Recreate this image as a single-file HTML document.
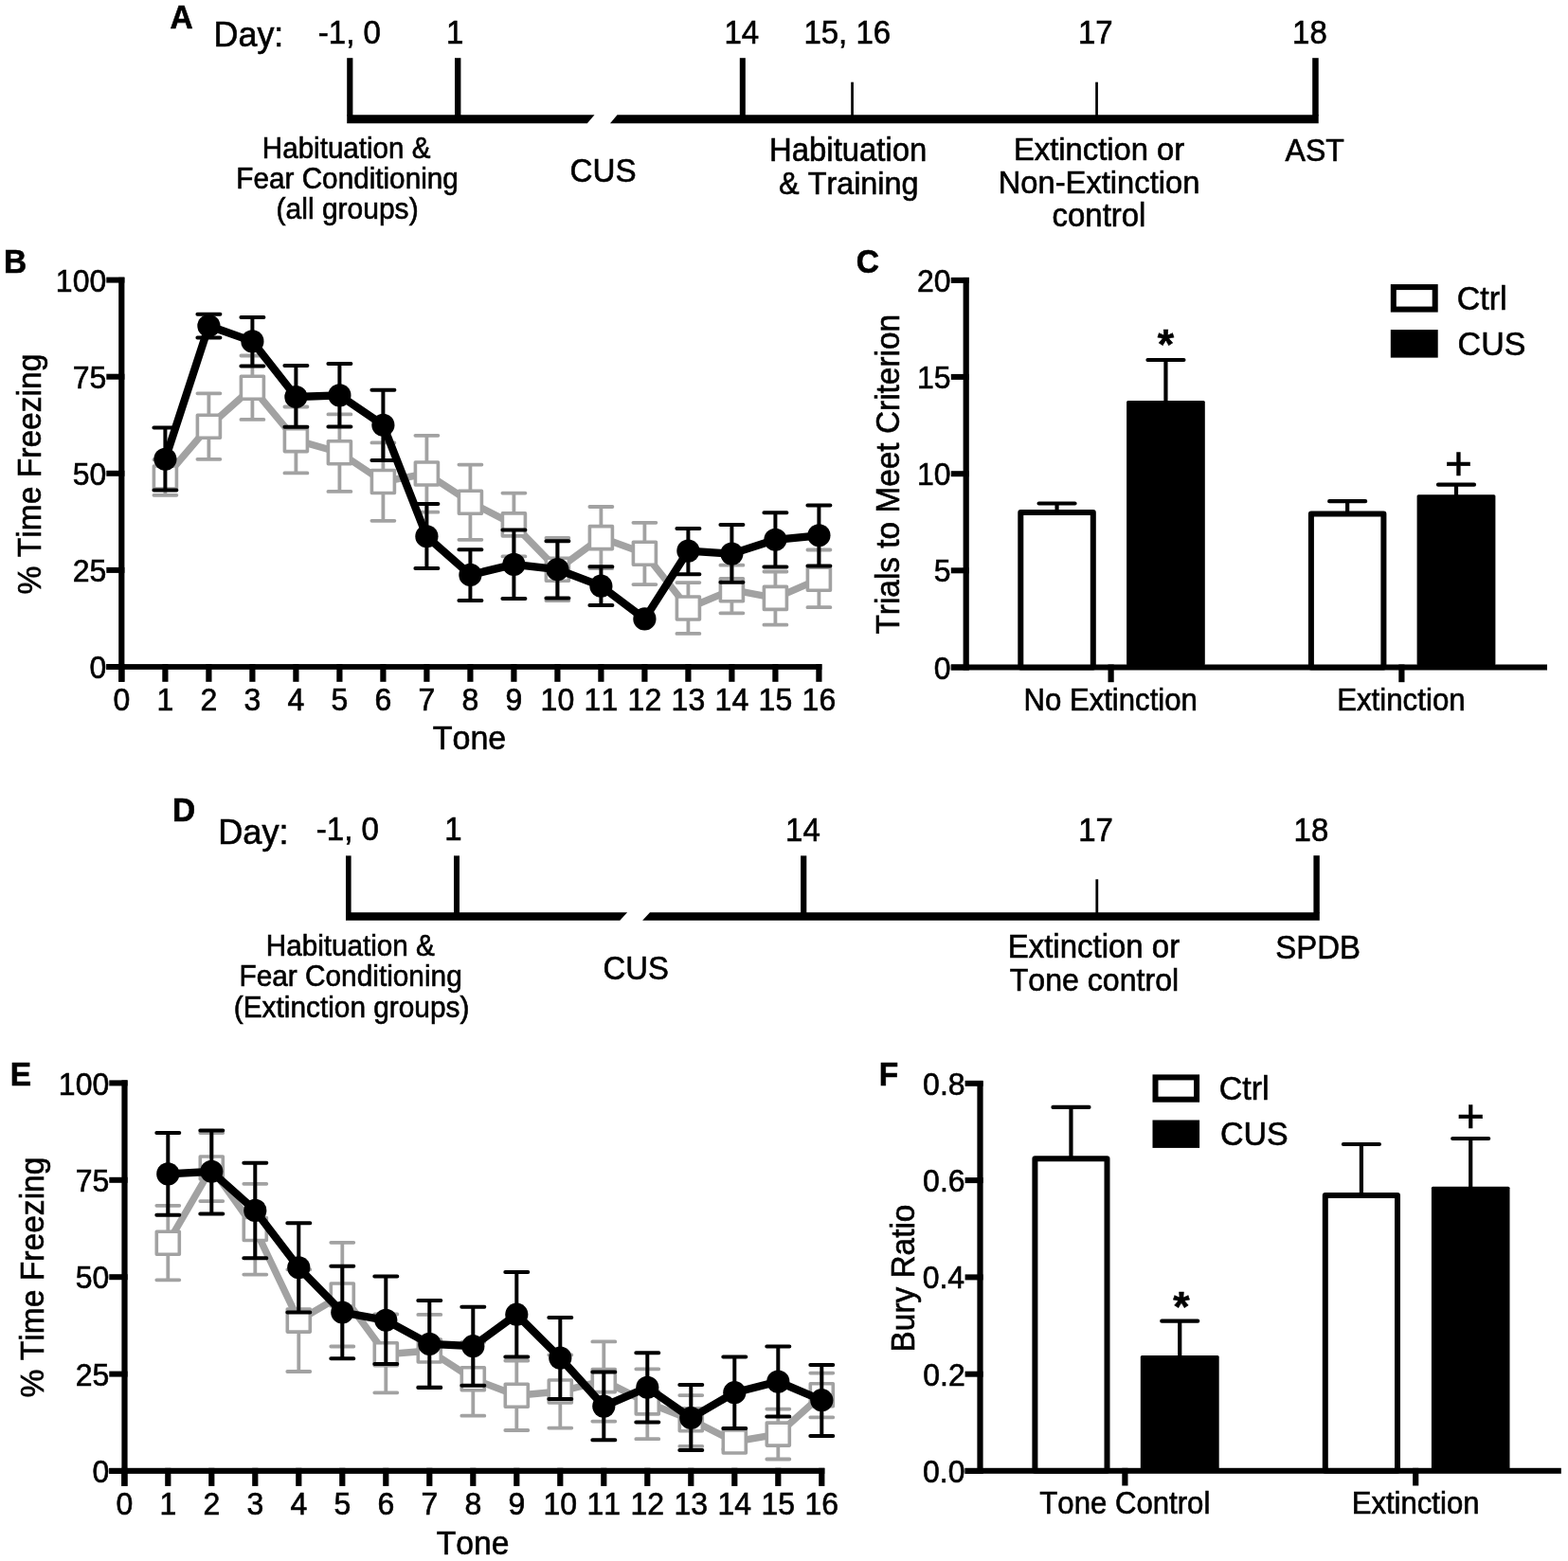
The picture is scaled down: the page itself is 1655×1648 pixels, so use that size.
<!DOCTYPE html>
<html><head><meta charset="utf-8"><title>Figure</title>
<style>
html,body{margin:0;padding:0;background:#fff;}
body{width:1655px;height:1648px;overflow:hidden;}
svg{display:block;}
svg text{font-family:'Liberation Sans', Arial, Helvetica, sans-serif;fill:#000;stroke:#000;stroke-width:0.6px;font-kerning:none;}
</style></head>
<body>
<svg width="1655" height="1648" viewBox="0 0 1655 1648">
<rect x="0" y="0" width="1655" height="1648" fill="#fff"/>
<polygon points="366.20,121.30 627.50,121.30 619.80,130.20 366.20,130.20" fill="#000"/>
<polygon points="651.50,121.30 1391.70,121.30 1391.70,130.20 644.00,130.20" fill="#000"/>
<rect x="366.20" y="61.20" width="6.20" height="61.10" fill="#000"/>
<rect x="480.00" y="61.20" width="6.40" height="61.10" fill="#000"/>
<rect x="780.80" y="61.20" width="6.00" height="61.10" fill="#000"/>
<rect x="898.20" y="86.70" width="2.70" height="35.60" fill="#000"/>
<rect x="1156.20" y="86.70" width="2.70" height="35.60" fill="#000"/>
<rect x="1385.20" y="61.20" width="6.50" height="61.10" fill="#000"/>
<polygon points="365.00,963.20 662.10,963.20 654.30,971.80 365.00,971.80" fill="#000"/>
<polygon points="686.00,963.20 1392.80,963.20 1392.80,971.80 678.10,971.80" fill="#000"/>
<rect x="365.00" y="903.40" width="5.60" height="60.80" fill="#000"/>
<rect x="479.00" y="903.40" width="6.00" height="60.80" fill="#000"/>
<rect x="845.10" y="903.40" width="6.20" height="60.80" fill="#000"/>
<rect x="1156.40" y="928.30" width="2.80" height="35.90" fill="#000"/>
<rect x="1386.40" y="903.20" width="6.40" height="61.00" fill="#000"/>
<text transform="translate(179.48,29.90) scale(1,1.041)" font-size="33.50" font-weight="bold">A</text>
<text transform="translate(225.55,48.60) scale(1,1.041)" font-size="35.90">Day:</text>
<text transform="translate(335.80,45.50) scale(1,1.041)" font-size="33.00">-1, 0</text>
<text transform="translate(470.90,45.50) scale(1,1.041)" font-size="33.00">1</text>
<text transform="translate(764.48,45.90) scale(1,1.041)" font-size="33.00">14</text>
<text transform="translate(848.40,45.90) scale(1,1.041)" font-size="33.00">15, 16</text>
<text transform="translate(1137.98,45.90) scale(1,1.041)" font-size="33.00">17</text>
<text transform="translate(1364.07,45.90) scale(1,1.041)" font-size="33.00">18</text>
<text transform="translate(276.87,166.90) scale(1,1.041)" font-size="29.58">Habituation &amp;</text>
<text transform="translate(249.36,199.10) scale(1,1.041)" font-size="29.71">Fear Conditioning</text>
<text transform="translate(291.54,230.50) scale(1,1.041)" font-size="30.01">(all groups)</text>
<text transform="translate(601.61,192.30) scale(1,1.041)" font-size="33.21">CUS</text>
<text transform="translate(812.10,170.20) scale(1,1.041)" font-size="32.86">Habituation</text>
<text transform="translate(822.06,204.80) scale(1,1.041)" font-size="32.37">&amp; Training</text>
<text transform="translate(1069.91,168.80) scale(1,1.041)" font-size="32.79">Extinction or</text>
<text transform="translate(1053.72,204.40) scale(1,1.041)" font-size="32.71">Non-Extinction</text>
<text transform="translate(1110.60,239.40) scale(1,1.041)" font-size="32.92">control</text>
<text transform="translate(1356.54,170.00) scale(1,1.041)" font-size="32.08">AST</text>
<text transform="translate(181.99,866.90) scale(1,1.041)" font-size="33.50" font-weight="bold">D</text>
<text transform="translate(230.24,890.60) scale(1,1.041)" font-size="36.12">Day:</text>
<text transform="translate(333.85,887.20) scale(1,1.041)" font-size="33.00">-1, 0</text>
<text transform="translate(469.20,887.20) scale(1,1.041)" font-size="33.00">1</text>
<text transform="translate(829.03,887.50) scale(1,1.041)" font-size="33.00">14</text>
<text transform="translate(1138.18,887.50) scale(1,1.041)" font-size="33.00">17</text>
<text transform="translate(1365.57,887.50) scale(1,1.041)" font-size="33.00">18</text>
<text transform="translate(280.77,1009.10) scale(1,1.041)" font-size="29.66">Habituation &amp;</text>
<text transform="translate(252.45,1041.30) scale(1,1.041)" font-size="29.82">Fear Conditioning</text>
<text transform="translate(246.75,1074.30) scale(1,1.041)" font-size="29.84">(Extinction groups)</text>
<text transform="translate(636.43,1034.40) scale(1,1.041)" font-size="32.86">CUS</text>
<text transform="translate(1063.69,1010.90) scale(1,1.041)" font-size="32.98">Extinction or</text>
<text transform="translate(1065.68,1045.70) scale(1,1.041)" font-size="32.13">Tone control</text>
<text transform="translate(1346.30,1011.90) scale(1,1.041)" font-size="32.95">SPDB</text>
<rect x="112.30" y="701.00" width="19.10" height="6.00" fill="#000"/>
<rect x="112.30" y="598.90" width="19.10" height="6.00" fill="#000"/>
<rect x="112.30" y="496.80" width="19.10" height="6.00" fill="#000"/>
<rect x="112.30" y="394.70" width="19.10" height="6.00" fill="#000"/>
<rect x="112.30" y="292.60" width="19.10" height="6.00" fill="#000"/>
<rect x="125.20" y="292.80" width="6.20" height="427.00" fill="#000"/>
<rect x="112.30" y="701.10" width="755.10" height="5.80" fill="#000"/>
<rect x="125.30" y="701.10" width="6.20" height="18.70" fill="#000"/>
<rect x="171.30" y="701.10" width="6.20" height="18.70" fill="#000"/>
<rect x="217.30" y="701.10" width="6.20" height="18.70" fill="#000"/>
<rect x="263.30" y="701.10" width="6.20" height="18.70" fill="#000"/>
<rect x="309.30" y="701.10" width="6.20" height="18.70" fill="#000"/>
<rect x="355.30" y="701.10" width="6.20" height="18.70" fill="#000"/>
<rect x="401.30" y="701.10" width="6.20" height="18.70" fill="#000"/>
<rect x="447.30" y="701.10" width="6.20" height="18.70" fill="#000"/>
<rect x="493.30" y="701.10" width="6.20" height="18.70" fill="#000"/>
<rect x="539.30" y="701.10" width="6.20" height="18.70" fill="#000"/>
<rect x="585.30" y="701.10" width="6.20" height="18.70" fill="#000"/>
<rect x="631.30" y="701.10" width="6.20" height="18.70" fill="#000"/>
<rect x="677.30" y="701.10" width="6.20" height="18.70" fill="#000"/>
<rect x="723.30" y="701.10" width="6.20" height="18.70" fill="#000"/>
<rect x="769.30" y="701.10" width="6.20" height="18.70" fill="#000"/>
<rect x="815.30" y="701.10" width="6.20" height="18.70" fill="#000"/>
<rect x="861.30" y="701.10" width="6.20" height="18.70" fill="#000"/>
<text transform="translate(94.45,716.20) scale(1,1.041)" font-size="32.00">0</text>
<text transform="translate(76.75,614.10) scale(1,1.041)" font-size="32.00">25</text>
<text transform="translate(76.66,512.00) scale(1,1.041)" font-size="32.00">50</text>
<text transform="translate(76.75,409.90) scale(1,1.041)" font-size="32.00">75</text>
<text transform="translate(58.86,307.80) scale(1,1.041)" font-size="32.00">100</text>
<text transform="translate(128.40,750.00) scale(1,1.041)" font-size="32.00" text-anchor="middle">0</text>
<text transform="translate(174.40,750.00) scale(1,1.041)" font-size="32.00" text-anchor="middle">1</text>
<text transform="translate(220.40,750.00) scale(1,1.041)" font-size="32.00" text-anchor="middle">2</text>
<text transform="translate(266.40,750.00) scale(1,1.041)" font-size="32.00" text-anchor="middle">3</text>
<text transform="translate(312.40,750.00) scale(1,1.041)" font-size="32.00" text-anchor="middle">4</text>
<text transform="translate(358.40,750.00) scale(1,1.041)" font-size="32.00" text-anchor="middle">5</text>
<text transform="translate(404.40,750.00) scale(1,1.041)" font-size="32.00" text-anchor="middle">6</text>
<text transform="translate(450.40,750.00) scale(1,1.041)" font-size="32.00" text-anchor="middle">7</text>
<text transform="translate(496.40,750.00) scale(1,1.041)" font-size="32.00" text-anchor="middle">8</text>
<text transform="translate(542.40,750.00) scale(1,1.041)" font-size="32.00" text-anchor="middle">9</text>
<text transform="translate(588.40,750.00) scale(1,1.041)" font-size="32.00" text-anchor="middle">10</text>
<text transform="translate(634.40,750.00) scale(1,1.041)" font-size="32.00" text-anchor="middle">11</text>
<text transform="translate(680.40,750.00) scale(1,1.041)" font-size="32.00" text-anchor="middle">12</text>
<text transform="translate(726.40,750.00) scale(1,1.041)" font-size="32.00" text-anchor="middle">13</text>
<text transform="translate(772.40,750.00) scale(1,1.041)" font-size="32.00" text-anchor="middle">14</text>
<text transform="translate(818.40,750.00) scale(1,1.041)" font-size="32.00" text-anchor="middle">15</text>
<text transform="translate(864.40,750.00) scale(1,1.041)" font-size="32.00" text-anchor="middle">16</text>
<path d="M174.40,485.20V522.80M162.40,485.20H186.40M162.40,522.80H186.40" stroke="#a2a2a2" stroke-width="3.8" stroke-linecap="round" fill="none"/>
<path d="M220.40,415.30V484.80M208.40,415.30H232.40M208.40,484.80H232.40" stroke="#a2a2a2" stroke-width="3.8" stroke-linecap="round" fill="none"/>
<path d="M266.40,375.50V442.90M254.40,375.50H278.40M254.40,442.90H278.40" stroke="#a2a2a2" stroke-width="3.8" stroke-linecap="round" fill="none"/>
<path d="M312.40,429.50V499.40M300.40,429.50H324.40M300.40,499.40H324.40" stroke="#a2a2a2" stroke-width="3.8" stroke-linecap="round" fill="none"/>
<path d="M358.40,437.40V518.90M346.40,437.40H370.40M346.40,518.90H370.40" stroke="#a2a2a2" stroke-width="3.8" stroke-linecap="round" fill="none"/>
<path d="M404.40,467.40V549.80M392.40,467.40H416.40M392.40,549.80H416.40" stroke="#a2a2a2" stroke-width="3.8" stroke-linecap="round" fill="none"/>
<path d="M450.40,459.80V540.70M438.40,459.80H462.40M438.40,540.70H462.40" stroke="#a2a2a2" stroke-width="3.8" stroke-linecap="round" fill="none"/>
<path d="M496.40,490.60V569.80M484.40,490.60H508.40M484.40,569.80H508.40" stroke="#a2a2a2" stroke-width="3.8" stroke-linecap="round" fill="none"/>
<path d="M542.40,520.60V587.40M530.40,520.60H554.40M530.40,587.40H554.40" stroke="#a2a2a2" stroke-width="3.8" stroke-linecap="round" fill="none"/>
<path d="M588.40,568.00V634.00M576.40,568.00H600.40M576.40,634.00H600.40" stroke="#a2a2a2" stroke-width="3.8" stroke-linecap="round" fill="none"/>
<path d="M634.40,535.00V600.00M622.40,535.00H646.40M622.40,600.00H646.40" stroke="#a2a2a2" stroke-width="3.8" stroke-linecap="round" fill="none"/>
<path d="M680.40,551.80V617.10M668.40,551.80H692.40M668.40,617.10H692.40" stroke="#a2a2a2" stroke-width="3.8" stroke-linecap="round" fill="none"/>
<path d="M726.40,615.10V668.90M714.40,615.10H738.40M714.40,668.90H738.40" stroke="#a2a2a2" stroke-width="3.8" stroke-linecap="round" fill="none"/>
<path d="M772.40,596.70V647.30M760.40,596.70H784.40M760.40,647.30H784.40" stroke="#a2a2a2" stroke-width="3.8" stroke-linecap="round" fill="none"/>
<path d="M818.40,603.50V659.70M806.40,603.50H830.40M806.40,659.70H830.40" stroke="#a2a2a2" stroke-width="3.8" stroke-linecap="round" fill="none"/>
<path d="M864.40,580.50V641.20M852.40,580.50H876.40M852.40,641.20H876.40" stroke="#a2a2a2" stroke-width="3.8" stroke-linecap="round" fill="none"/>
<polyline points="174.40,504.00 220.40,450.20 266.40,409.30 312.40,464.60 358.40,477.70 404.40,508.50 450.40,500.00 496.40,530.20 542.40,553.90 588.40,601.20 634.40,567.60 680.40,584.30 726.40,642.00 772.40,622.70 818.40,631.40 864.40,611.30" fill="none" stroke="#a2a2a2" stroke-width="7.4" stroke-linejoin="round"/>
<rect x="162.40" y="492.00" width="24" height="24" fill="#fff" stroke="#a2a2a2" stroke-width="3.6" stroke-linejoin="round"/>
<rect x="208.40" y="438.20" width="24" height="24" fill="#fff" stroke="#a2a2a2" stroke-width="3.6" stroke-linejoin="round"/>
<rect x="254.40" y="397.30" width="24" height="24" fill="#fff" stroke="#a2a2a2" stroke-width="3.6" stroke-linejoin="round"/>
<rect x="300.40" y="452.60" width="24" height="24" fill="#fff" stroke="#a2a2a2" stroke-width="3.6" stroke-linejoin="round"/>
<rect x="346.40" y="465.70" width="24" height="24" fill="#fff" stroke="#a2a2a2" stroke-width="3.6" stroke-linejoin="round"/>
<rect x="392.40" y="496.50" width="24" height="24" fill="#fff" stroke="#a2a2a2" stroke-width="3.6" stroke-linejoin="round"/>
<rect x="438.40" y="488.00" width="24" height="24" fill="#fff" stroke="#a2a2a2" stroke-width="3.6" stroke-linejoin="round"/>
<rect x="484.40" y="518.20" width="24" height="24" fill="#fff" stroke="#a2a2a2" stroke-width="3.6" stroke-linejoin="round"/>
<rect x="530.40" y="541.90" width="24" height="24" fill="#fff" stroke="#a2a2a2" stroke-width="3.6" stroke-linejoin="round"/>
<rect x="576.40" y="589.20" width="24" height="24" fill="#fff" stroke="#a2a2a2" stroke-width="3.6" stroke-linejoin="round"/>
<rect x="622.40" y="555.60" width="24" height="24" fill="#fff" stroke="#a2a2a2" stroke-width="3.6" stroke-linejoin="round"/>
<rect x="668.40" y="572.30" width="24" height="24" fill="#fff" stroke="#a2a2a2" stroke-width="3.6" stroke-linejoin="round"/>
<rect x="714.40" y="630.00" width="24" height="24" fill="#fff" stroke="#a2a2a2" stroke-width="3.6" stroke-linejoin="round"/>
<rect x="760.40" y="610.70" width="24" height="24" fill="#fff" stroke="#a2a2a2" stroke-width="3.6" stroke-linejoin="round"/>
<rect x="806.40" y="619.40" width="24" height="24" fill="#fff" stroke="#a2a2a2" stroke-width="3.6" stroke-linejoin="round"/>
<rect x="852.40" y="599.30" width="24" height="24" fill="#fff" stroke="#a2a2a2" stroke-width="3.6" stroke-linejoin="round"/>
<path d="M174.40,451.50V517.40M162.40,451.50H186.40M162.40,517.40H186.40" stroke="#000" stroke-width="4" stroke-linecap="round" fill="none"/>
<path d="M220.40,331.80V356.50M208.40,331.80H232.40M208.40,356.50H232.40" stroke="#000" stroke-width="4" stroke-linecap="round" fill="none"/>
<path d="M266.40,334.90V386.50M254.40,334.90H278.40M254.40,386.50H278.40" stroke="#000" stroke-width="4" stroke-linecap="round" fill="none"/>
<path d="M312.40,386.10V450.80M300.40,386.10H324.40M300.40,450.80H324.40" stroke="#000" stroke-width="4" stroke-linecap="round" fill="none"/>
<path d="M358.40,384.00V450.50M346.40,384.00H370.40M346.40,450.50H370.40" stroke="#000" stroke-width="4" stroke-linecap="round" fill="none"/>
<path d="M404.40,411.80V486.10M392.40,411.80H416.40M392.40,486.10H416.40" stroke="#000" stroke-width="4" stroke-linecap="round" fill="none"/>
<path d="M450.40,532.10V600.10M438.40,532.10H462.40M438.40,600.10H462.40" stroke="#000" stroke-width="4" stroke-linecap="round" fill="none"/>
<path d="M496.40,580.20V634.00M484.40,580.20H508.40M484.40,634.00H508.40" stroke="#000" stroke-width="4" stroke-linecap="round" fill="none"/>
<path d="M542.40,559.50V631.90M530.40,559.50H554.40M530.40,631.90H554.40" stroke="#000" stroke-width="4" stroke-linecap="round" fill="none"/>
<path d="M588.40,571.30V631.40M576.40,571.30H600.40M576.40,631.40H600.40" stroke="#000" stroke-width="4" stroke-linecap="round" fill="none"/>
<path d="M634.40,598.30V639.00M622.40,598.30H646.40M622.40,639.00H646.40" stroke="#000" stroke-width="4" stroke-linecap="round" fill="none"/>
<path d="M726.40,557.90V606.20M714.40,557.90H738.40M714.40,606.20H738.40" stroke="#000" stroke-width="4" stroke-linecap="round" fill="none"/>
<path d="M772.40,554.10V614.80M760.40,554.10H784.40M760.40,614.80H784.40" stroke="#000" stroke-width="4" stroke-linecap="round" fill="none"/>
<path d="M818.40,541.20V598.60M806.40,541.20H830.40M806.40,598.60H830.40" stroke="#000" stroke-width="4" stroke-linecap="round" fill="none"/>
<path d="M864.40,533.50V597.40M852.40,533.50H876.40M852.40,597.40H876.40" stroke="#000" stroke-width="4" stroke-linecap="round" fill="none"/>
<polyline points="174.40,484.80 220.40,344.00 266.40,360.40 312.40,419.00 358.40,417.40 404.40,448.80 450.40,566.30 496.40,606.90 542.40,595.90 588.40,601.10 634.40,618.70 680.40,653.40 726.40,581.60 772.40,584.60 818.40,569.80 864.40,565.30" fill="none" stroke="#000" stroke-width="8.3" stroke-linejoin="round"/>
<circle cx="174.40" cy="484.80" r="12.1" fill="#000"/>
<circle cx="220.40" cy="344.00" r="12.1" fill="#000"/>
<circle cx="266.40" cy="360.40" r="12.1" fill="#000"/>
<circle cx="312.40" cy="419.00" r="12.1" fill="#000"/>
<circle cx="358.40" cy="417.40" r="12.1" fill="#000"/>
<circle cx="404.40" cy="448.80" r="12.1" fill="#000"/>
<circle cx="450.40" cy="566.30" r="12.1" fill="#000"/>
<circle cx="496.40" cy="606.90" r="12.1" fill="#000"/>
<circle cx="542.40" cy="595.90" r="12.1" fill="#000"/>
<circle cx="588.40" cy="601.10" r="12.1" fill="#000"/>
<circle cx="634.40" cy="618.70" r="12.1" fill="#000"/>
<circle cx="680.40" cy="653.40" r="12.1" fill="#000"/>
<circle cx="726.40" cy="581.60" r="12.1" fill="#000"/>
<circle cx="772.40" cy="584.60" r="12.1" fill="#000"/>
<circle cx="818.40" cy="569.80" r="12.1" fill="#000"/>
<circle cx="864.40" cy="565.30" r="12.1" fill="#000"/>
<text transform="translate(4.04,287.90) scale(1,1.041)" font-size="33.50" font-weight="bold">B</text>
<text transform="translate(456.63,791.40) scale(1,1.041)" font-size="34.08">Tone</text>
<text transform="translate(42.50,501.00) rotate(-90) scale(1,1.041)" x="-126.48" y="0" font-size="33.60">% Time Freezing</text>
<rect x="115.30" y="1550.00" width="19.30" height="6.00" fill="#000"/>
<rect x="115.30" y="1447.60" width="19.30" height="6.00" fill="#000"/>
<rect x="115.30" y="1345.20" width="19.30" height="6.00" fill="#000"/>
<rect x="115.30" y="1242.80" width="19.30" height="6.00" fill="#000"/>
<rect x="115.30" y="1140.40" width="19.30" height="6.00" fill="#000"/>
<rect x="128.40" y="1140.40" width="6.20" height="428.50" fill="#000"/>
<rect x="115.30" y="1549.80" width="755.00" height="6.10" fill="#000"/>
<rect x="128.20" y="1549.80" width="6.20" height="19.10" fill="#000"/>
<rect x="174.20" y="1549.80" width="6.20" height="19.10" fill="#000"/>
<rect x="220.20" y="1549.80" width="6.20" height="19.10" fill="#000"/>
<rect x="266.20" y="1549.80" width="6.20" height="19.10" fill="#000"/>
<rect x="312.20" y="1549.80" width="6.20" height="19.10" fill="#000"/>
<rect x="358.20" y="1549.80" width="6.20" height="19.10" fill="#000"/>
<rect x="404.20" y="1549.80" width="6.20" height="19.10" fill="#000"/>
<rect x="450.20" y="1549.80" width="6.20" height="19.10" fill="#000"/>
<rect x="496.20" y="1549.80" width="6.20" height="19.10" fill="#000"/>
<rect x="542.20" y="1549.80" width="6.20" height="19.10" fill="#000"/>
<rect x="588.20" y="1549.80" width="6.20" height="19.10" fill="#000"/>
<rect x="634.20" y="1549.80" width="6.20" height="19.10" fill="#000"/>
<rect x="680.20" y="1549.80" width="6.20" height="19.10" fill="#000"/>
<rect x="726.20" y="1549.80" width="6.20" height="19.10" fill="#000"/>
<rect x="772.20" y="1549.80" width="6.20" height="19.10" fill="#000"/>
<rect x="818.20" y="1549.80" width="6.20" height="19.10" fill="#000"/>
<rect x="864.20" y="1549.80" width="6.20" height="19.10" fill="#000"/>
<text transform="translate(97.45,1565.20) scale(1,1.041)" font-size="32.00">0</text>
<text transform="translate(79.75,1462.80) scale(1,1.041)" font-size="32.00">25</text>
<text transform="translate(79.66,1360.40) scale(1,1.041)" font-size="32.00">50</text>
<text transform="translate(79.75,1258.00) scale(1,1.041)" font-size="32.00">75</text>
<text transform="translate(61.86,1155.60) scale(1,1.041)" font-size="32.00">100</text>
<text transform="translate(131.30,1598.60) scale(1,1.041)" font-size="32.00" text-anchor="middle">0</text>
<text transform="translate(177.30,1598.60) scale(1,1.041)" font-size="32.00" text-anchor="middle">1</text>
<text transform="translate(223.30,1598.60) scale(1,1.041)" font-size="32.00" text-anchor="middle">2</text>
<text transform="translate(269.30,1598.60) scale(1,1.041)" font-size="32.00" text-anchor="middle">3</text>
<text transform="translate(315.30,1598.60) scale(1,1.041)" font-size="32.00" text-anchor="middle">4</text>
<text transform="translate(361.30,1598.60) scale(1,1.041)" font-size="32.00" text-anchor="middle">5</text>
<text transform="translate(407.30,1598.60) scale(1,1.041)" font-size="32.00" text-anchor="middle">6</text>
<text transform="translate(453.30,1598.60) scale(1,1.041)" font-size="32.00" text-anchor="middle">7</text>
<text transform="translate(499.30,1598.60) scale(1,1.041)" font-size="32.00" text-anchor="middle">8</text>
<text transform="translate(545.30,1598.60) scale(1,1.041)" font-size="32.00" text-anchor="middle">9</text>
<text transform="translate(591.30,1598.60) scale(1,1.041)" font-size="32.00" text-anchor="middle">10</text>
<text transform="translate(637.30,1598.60) scale(1,1.041)" font-size="32.00" text-anchor="middle">11</text>
<text transform="translate(683.30,1598.60) scale(1,1.041)" font-size="32.00" text-anchor="middle">12</text>
<text transform="translate(729.30,1598.60) scale(1,1.041)" font-size="32.00" text-anchor="middle">13</text>
<text transform="translate(775.30,1598.60) scale(1,1.041)" font-size="32.00" text-anchor="middle">14</text>
<text transform="translate(821.30,1598.60) scale(1,1.041)" font-size="32.00" text-anchor="middle">15</text>
<text transform="translate(867.30,1598.60) scale(1,1.041)" font-size="32.00" text-anchor="middle">16</text>
<path d="M177.30,1272.80V1351.30M165.30,1272.80H189.30M165.30,1351.30H189.30" stroke="#a2a2a2" stroke-width="3.8" stroke-linecap="round" fill="none"/>
<path d="M223.30,1196.00V1268.10M211.30,1196.00H235.30M211.30,1268.10H235.30" stroke="#a2a2a2" stroke-width="3.8" stroke-linecap="round" fill="none"/>
<path d="M269.30,1249.80V1345.60M257.30,1249.80H281.30M257.30,1345.60H281.30" stroke="#a2a2a2" stroke-width="3.8" stroke-linecap="round" fill="none"/>
<path d="M315.30,1340.30V1448.00M303.30,1340.30H327.30M303.30,1448.00H327.30" stroke="#a2a2a2" stroke-width="3.8" stroke-linecap="round" fill="none"/>
<path d="M361.30,1311.80V1421.50M349.30,1311.80H373.30M349.30,1421.50H373.30" stroke="#a2a2a2" stroke-width="3.8" stroke-linecap="round" fill="none"/>
<path d="M407.30,1387.50V1470.30M395.30,1387.50H419.30M395.30,1470.30H419.30" stroke="#a2a2a2" stroke-width="3.8" stroke-linecap="round" fill="none"/>
<path d="M453.30,1387.90V1464.10M441.30,1387.90H465.30M441.30,1464.10H465.30" stroke="#a2a2a2" stroke-width="3.8" stroke-linecap="round" fill="none"/>
<path d="M499.30,1416.90V1494.70M487.30,1416.90H511.30M487.30,1494.70H511.30" stroke="#a2a2a2" stroke-width="3.8" stroke-linecap="round" fill="none"/>
<path d="M545.30,1436.50V1510.00M533.30,1436.50H557.30M533.30,1510.00H557.30" stroke="#a2a2a2" stroke-width="3.8" stroke-linecap="round" fill="none"/>
<path d="M591.30,1430.40V1507.60M579.30,1430.40H603.30M579.30,1507.60H603.30" stroke="#a2a2a2" stroke-width="3.8" stroke-linecap="round" fill="none"/>
<path d="M637.30,1416.40V1500.60M625.30,1416.40H649.30M625.30,1500.60H649.30" stroke="#a2a2a2" stroke-width="3.8" stroke-linecap="round" fill="none"/>
<path d="M683.30,1445.30V1519.20M671.30,1445.30H695.30M671.30,1519.20H695.30" stroke="#a2a2a2" stroke-width="3.8" stroke-linecap="round" fill="none"/>
<path d="M729.30,1473.10V1526.80M717.30,1473.10H741.30M717.30,1526.80H741.30" stroke="#a2a2a2" stroke-width="3.8" stroke-linecap="round" fill="none"/>
<path d="M775.30,1514.00V1530.00M763.30,1514.00H787.30M763.30,1530.00H787.30" stroke="#a2a2a2" stroke-width="3.8" stroke-linecap="round" fill="none"/>
<path d="M821.30,1487.60V1540.50M809.30,1487.60H833.30M809.30,1540.50H833.30" stroke="#a2a2a2" stroke-width="3.8" stroke-linecap="round" fill="none"/>
<path d="M867.30,1449.60V1496.30M855.30,1449.60H879.30M855.30,1496.30H879.30" stroke="#a2a2a2" stroke-width="3.8" stroke-linecap="round" fill="none"/>
<polyline points="177.30,1312.20 223.30,1233.00 269.30,1297.50 315.30,1394.10 361.30,1367.00 407.30,1429.70 453.30,1426.00 499.30,1455.80 545.30,1473.30 591.30,1469.00 637.30,1457.60 683.30,1480.90 729.30,1498.80 775.30,1522.00 821.30,1514.10 867.30,1472.70" fill="none" stroke="#a2a2a2" stroke-width="7.4" stroke-linejoin="round"/>
<rect x="165.30" y="1300.20" width="24" height="24" fill="#fff" stroke="#a2a2a2" stroke-width="3.6" stroke-linejoin="round"/>
<rect x="211.30" y="1221.00" width="24" height="24" fill="#fff" stroke="#a2a2a2" stroke-width="3.6" stroke-linejoin="round"/>
<rect x="257.30" y="1285.50" width="24" height="24" fill="#fff" stroke="#a2a2a2" stroke-width="3.6" stroke-linejoin="round"/>
<rect x="303.30" y="1382.10" width="24" height="24" fill="#fff" stroke="#a2a2a2" stroke-width="3.6" stroke-linejoin="round"/>
<rect x="349.30" y="1355.00" width="24" height="24" fill="#fff" stroke="#a2a2a2" stroke-width="3.6" stroke-linejoin="round"/>
<rect x="395.30" y="1417.70" width="24" height="24" fill="#fff" stroke="#a2a2a2" stroke-width="3.6" stroke-linejoin="round"/>
<rect x="441.30" y="1414.00" width="24" height="24" fill="#fff" stroke="#a2a2a2" stroke-width="3.6" stroke-linejoin="round"/>
<rect x="487.30" y="1443.80" width="24" height="24" fill="#fff" stroke="#a2a2a2" stroke-width="3.6" stroke-linejoin="round"/>
<rect x="533.30" y="1461.30" width="24" height="24" fill="#fff" stroke="#a2a2a2" stroke-width="3.6" stroke-linejoin="round"/>
<rect x="579.30" y="1457.00" width="24" height="24" fill="#fff" stroke="#a2a2a2" stroke-width="3.6" stroke-linejoin="round"/>
<rect x="625.30" y="1445.60" width="24" height="24" fill="#fff" stroke="#a2a2a2" stroke-width="3.6" stroke-linejoin="round"/>
<rect x="671.30" y="1468.90" width="24" height="24" fill="#fff" stroke="#a2a2a2" stroke-width="3.6" stroke-linejoin="round"/>
<rect x="717.30" y="1486.80" width="24" height="24" fill="#fff" stroke="#a2a2a2" stroke-width="3.6" stroke-linejoin="round"/>
<rect x="763.30" y="1510.00" width="24" height="24" fill="#fff" stroke="#a2a2a2" stroke-width="3.6" stroke-linejoin="round"/>
<rect x="809.30" y="1502.10" width="24" height="24" fill="#fff" stroke="#a2a2a2" stroke-width="3.6" stroke-linejoin="round"/>
<rect x="855.30" y="1460.70" width="24" height="24" fill="#fff" stroke="#a2a2a2" stroke-width="3.6" stroke-linejoin="round"/>
<path d="M177.30,1196.00V1282.80M165.30,1196.00H189.30M165.30,1282.80H189.30" stroke="#000" stroke-width="4" stroke-linecap="round" fill="none"/>
<path d="M223.30,1193.40V1281.50M211.30,1193.40H235.30M211.30,1281.50H235.30" stroke="#000" stroke-width="4" stroke-linecap="round" fill="none"/>
<path d="M269.30,1227.80V1328.20M257.30,1227.80H281.30M257.30,1328.20H281.30" stroke="#000" stroke-width="4" stroke-linecap="round" fill="none"/>
<path d="M315.30,1291.30V1385.50M303.30,1291.30H327.30M303.30,1385.50H327.30" stroke="#000" stroke-width="4" stroke-linecap="round" fill="none"/>
<path d="M361.30,1336.80V1434.20M349.30,1336.80H373.30M349.30,1434.20H373.30" stroke="#000" stroke-width="4" stroke-linecap="round" fill="none"/>
<path d="M407.30,1347.40V1440.00M395.30,1347.40H419.30M395.30,1440.00H419.30" stroke="#000" stroke-width="4" stroke-linecap="round" fill="none"/>
<path d="M453.30,1373.10V1464.90M441.30,1373.10H465.30M441.30,1464.90H465.30" stroke="#000" stroke-width="4" stroke-linecap="round" fill="none"/>
<path d="M499.30,1379.80V1462.70M487.30,1379.80H511.30M487.30,1462.70H511.30" stroke="#000" stroke-width="4" stroke-linecap="round" fill="none"/>
<path d="M545.30,1343.00V1432.40M533.30,1343.00H557.30M533.30,1432.40H557.30" stroke="#000" stroke-width="4" stroke-linecap="round" fill="none"/>
<path d="M591.30,1391.10V1477.00M579.30,1391.10H603.30M579.30,1477.00H603.30" stroke="#000" stroke-width="4" stroke-linecap="round" fill="none"/>
<path d="M637.30,1448.40V1520.20M625.30,1448.40H649.30M625.30,1520.20H649.30" stroke="#000" stroke-width="4" stroke-linecap="round" fill="none"/>
<path d="M683.30,1428.30V1501.50M671.30,1428.30H695.30M671.30,1501.50H695.30" stroke="#000" stroke-width="4" stroke-linecap="round" fill="none"/>
<path d="M729.30,1462.00V1531.10M717.30,1462.00H741.30M717.30,1531.10H741.30" stroke="#000" stroke-width="4" stroke-linecap="round" fill="none"/>
<path d="M775.30,1432.50V1507.90M763.30,1432.50H787.30M763.30,1507.90H787.30" stroke="#000" stroke-width="4" stroke-linecap="round" fill="none"/>
<path d="M821.30,1421.60V1495.60M809.30,1421.60H833.30M809.30,1495.60H833.30" stroke="#000" stroke-width="4" stroke-linecap="round" fill="none"/>
<path d="M867.30,1440.90V1515.90M855.30,1440.90H879.30M855.30,1515.90H879.30" stroke="#000" stroke-width="4" stroke-linecap="round" fill="none"/>
<polyline points="177.30,1239.40 223.30,1236.80 269.30,1277.90 315.30,1338.30 361.30,1385.50 407.30,1393.80 453.30,1418.90 499.30,1421.20 545.30,1387.70 591.30,1433.60 637.30,1484.60 683.30,1464.80 729.30,1497.00 775.30,1470.20 821.30,1458.60 867.30,1478.20" fill="none" stroke="#000" stroke-width="8.3" stroke-linejoin="round"/>
<circle cx="177.30" cy="1239.40" r="12.1" fill="#000"/>
<circle cx="223.30" cy="1236.80" r="12.1" fill="#000"/>
<circle cx="269.30" cy="1277.90" r="12.1" fill="#000"/>
<circle cx="315.30" cy="1338.30" r="12.1" fill="#000"/>
<circle cx="361.30" cy="1385.50" r="12.1" fill="#000"/>
<circle cx="407.30" cy="1393.80" r="12.1" fill="#000"/>
<circle cx="453.30" cy="1418.90" r="12.1" fill="#000"/>
<circle cx="499.30" cy="1421.20" r="12.1" fill="#000"/>
<circle cx="545.30" cy="1387.70" r="12.1" fill="#000"/>
<circle cx="591.30" cy="1433.60" r="12.1" fill="#000"/>
<circle cx="637.30" cy="1484.60" r="12.1" fill="#000"/>
<circle cx="683.30" cy="1464.80" r="12.1" fill="#000"/>
<circle cx="729.30" cy="1497.00" r="12.1" fill="#000"/>
<circle cx="775.30" cy="1470.20" r="12.1" fill="#000"/>
<circle cx="821.30" cy="1458.60" r="12.1" fill="#000"/>
<circle cx="867.30" cy="1478.20" r="12.1" fill="#000"/>
<text transform="translate(10.81,1145.90) scale(1,1.041)" font-size="33.50" font-weight="bold">E</text>
<text transform="translate(460.64,1640.70) scale(1,1.041)" font-size="33.67">Tone</text>
<text transform="translate(45.50,1348.90) rotate(-90) scale(1,1.041)" x="-126.48" y="0" font-size="33.60">% Time Freezing</text>
<rect x="1003.80" y="292.90" width="19.00" height="6.00" fill="#000"/>
<text transform="translate(967.96,307.90) scale(1,1.041)" font-size="32.00">20</text>
<rect x="1003.80" y="394.90" width="19.00" height="6.00" fill="#000"/>
<text transform="translate(968.05,409.90) scale(1,1.041)" font-size="32.00">15</text>
<rect x="1003.80" y="497.20" width="19.00" height="6.00" fill="#000"/>
<text transform="translate(967.96,512.20) scale(1,1.041)" font-size="32.00">10</text>
<rect x="1003.80" y="599.30" width="19.00" height="6.00" fill="#000"/>
<text transform="translate(985.85,614.30) scale(1,1.041)" font-size="32.00">5</text>
<rect x="1003.80" y="701.50" width="19.00" height="6.00" fill="#000"/>
<text transform="translate(985.75,716.50) scale(1,1.041)" font-size="32.00">0</text>
<rect x="1016.60" y="292.90" width="6.20" height="414.60" fill="#000"/>
<rect x="1003.80" y="701.50" width="629.20" height="6.00" fill="#000"/>
<rect x="1169.50" y="701.50" width="6.20" height="18.70" fill="#000"/>
<rect x="1476.30" y="701.50" width="6.20" height="18.70" fill="#000"/>
<path d="M1115.55,541.10V531.50M1096.55,531.50H1134.55" stroke="#000" stroke-width="4.2" stroke-linecap="round" fill="none"/>
<rect x="1077.30" y="541.10" width="76.50" height="163.40" fill="#fff" stroke="#000" stroke-width="6" stroke-linejoin="round"/>
<path d="M1230.45,426.00V380.00M1211.45,380.00H1249.45" stroke="#000" stroke-width="4.2" stroke-linecap="round" fill="none"/>
<rect x="1189.10" y="423.00" width="82.70" height="279.50" rx="1.5" fill="#000"/>
<path d="M1422.15,542.50V529.20M1403.15,529.20H1441.15" stroke="#000" stroke-width="4.2" stroke-linecap="round" fill="none"/>
<rect x="1383.90" y="542.50" width="76.50" height="162.00" fill="#fff" stroke="#000" stroke-width="6" stroke-linejoin="round"/>
<path d="M1537.00,525.20V511.70M1518.00,511.70H1556.00" stroke="#000" stroke-width="4.2" stroke-linecap="round" fill="none"/>
<rect x="1495.60" y="522.20" width="82.80" height="180.30" rx="1.5" fill="#000"/>
<text transform="translate(1080.45,750.10) scale(1,1.041)" font-size="31.14">No Extinction</text>
<text transform="translate(1411.13,750.10) scale(1,1.041)" font-size="31.28">Extinction</text>
<text transform="translate(948.50,501.40) rotate(-90) scale(1,1.041)" x="-168.19" y="0" font-size="33.40">Trials to Meet Criterion</text>
<rect x="1470.80" y="303.10" width="43.90" height="23.50" fill="#fff" stroke="#000" stroke-width="6"/>
<rect x="1467.80" y="348.10" width="49.90" height="29.50" fill="#000"/>
<text transform="translate(1537.79,326.80) scale(1,1.041)" font-size="34.00">Ctrl</text>
<text transform="translate(1538.62,375.10) scale(1,1.041)" font-size="34.00">CUS</text>
<text transform="translate(903.67,287.90) scale(1,1.041)" font-size="33.50" font-weight="bold">C</text>
<text transform="translate(1221.80,378.72) scale(1,1.0)" font-size="44.50" font-weight="bold">*</text>
<text transform="translate(1525.06,505.87) scale(1,1.0)" font-size="49.50">+</text>
<rect x="1018.60" y="1140.80" width="19.00" height="6.00" fill="#000"/>
<text transform="translate(974.11,1155.80) scale(1,1.041)" font-size="32.00">0.8</text>
<rect x="1018.60" y="1243.10" width="19.00" height="6.00" fill="#000"/>
<text transform="translate(974.12,1258.10) scale(1,1.041)" font-size="32.00">0.6</text>
<rect x="1018.60" y="1345.40" width="19.00" height="6.00" fill="#000"/>
<text transform="translate(973.65,1360.40) scale(1,1.041)" font-size="32.00">0.4</text>
<rect x="1018.60" y="1447.70" width="19.00" height="6.00" fill="#000"/>
<text transform="translate(974.33,1462.70) scale(1,1.041)" font-size="32.00">0.2</text>
<rect x="1018.60" y="1550.00" width="19.00" height="6.00" fill="#000"/>
<text transform="translate(973.97,1565.00) scale(1,1.041)" font-size="32.00">0.0</text>
<rect x="1031.40" y="1141.20" width="6.20" height="414.60" fill="#000"/>
<rect x="1018.60" y="1549.80" width="629.20" height="6.00" fill="#000"/>
<rect x="1184.30" y="1549.80" width="6.20" height="18.70" fill="#000"/>
<rect x="1491.10" y="1549.80" width="6.20" height="18.70" fill="#000"/>
<path d="M1130.45,1223.20V1168.90M1111.45,1168.90H1149.45" stroke="#000" stroke-width="4.2" stroke-linecap="round" fill="none"/>
<rect x="1092.40" y="1223.20" width="76.10" height="329.60" fill="#fff" stroke="#000" stroke-width="6" stroke-linejoin="round"/>
<path d="M1245.25,1433.90V1394.70M1226.25,1394.70H1264.25" stroke="#000" stroke-width="4.2" stroke-linecap="round" fill="none"/>
<rect x="1203.80" y="1430.90" width="82.90" height="119.90" rx="1.5" fill="#000"/>
<path d="M1436.90,1261.90V1208.00M1417.90,1208.00H1455.90" stroke="#000" stroke-width="4.2" stroke-linecap="round" fill="none"/>
<rect x="1398.80" y="1261.90" width="76.20" height="290.90" fill="#fff" stroke="#000" stroke-width="6" stroke-linejoin="round"/>
<path d="M1552.20,1255.70V1202.00M1533.20,1202.00H1571.20" stroke="#000" stroke-width="4.2" stroke-linecap="round" fill="none"/>
<rect x="1510.90" y="1252.70" width="82.60" height="298.10" rx="1.5" fill="#000"/>
<text transform="translate(1097.30,1597.80) scale(1,1.041)" font-size="31.15">Tone Control</text>
<text transform="translate(1426.65,1597.80) scale(1,1.041)" font-size="31.11">Extinction</text>
<text transform="translate(964.80,1348.80) rotate(-90) scale(1,1.041)" x="-78.63" y="0" font-size="33.40">Bury Ratio</text>
<rect x="1219.50" y="1137.40" width="43.60" height="23.30" fill="#fff" stroke="#000" stroke-width="6"/>
<rect x="1216.50" y="1182.50" width="49.60" height="29.40" fill="#000"/>
<text transform="translate(1286.74,1161.10) scale(1,1.041)" font-size="34.00">Ctrl</text>
<text transform="translate(1288.02,1208.80) scale(1,1.041)" font-size="34.00">CUS</text>
<text transform="translate(927.71,1146.20) scale(1,1.041)" font-size="33.50" font-weight="bold">F</text>
<text transform="translate(1238.15,1395.32) scale(1,1.0)" font-size="44.50" font-weight="bold">*</text>
<text transform="translate(1537.62,1194.65) scale(1,1.0)" font-size="50.50">+</text>
</svg>
</body></html>
